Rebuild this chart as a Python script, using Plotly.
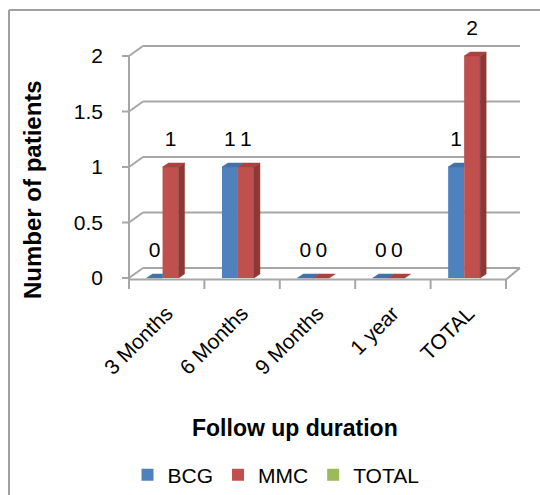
import plotly.graph_objects as go

# ---------------- data ----------------
categories = ["3 Months", "6 Months", "9 Months", "1 year", "TOTAL"]
bcg = [0, 1, 0, 0, 1]
mmc = [1, 1, 0, 0, 2]
total = [None, None, None, None, None]
y_ticks = [0, 0.5, 1, 1.5, 2]
y_tick_text = ["0", "0.5", "1", "1.5", "2"]

# ---------------- geometry (pixels) ----------------
W, H = 540, 495
ML, MR, MT, MB = 112, 10, 20, 205
PW = W - ML - MR
PH = H - MT - MB
BOTTOM_PX = MT + PH
X_PX = 75.4          # px per category
Y_PX = 111.0         # px per unit
FRONT_LEFT_PX = 129  # x = -0.5
ZERO_PX = 278        # y = 0
X0 = -0.5
XMIN = X0 - (FRONT_LEFT_PX - ML) / X_PX
XMAX = XMIN + PW / X_PX
YMIN = -(BOTTOM_PX - ZERO_PX) / Y_PX
YMAX = YMIN + PH / Y_PX
DX, DY = 14 / X_PX, 10 / Y_PX       # wall depth
BD, BE = 6 / X_PX, 4 / Y_PX         # bar depth
BAR_W = 0.212
XN = len(categories)
XEND = X0 + XN


def px(p):
    return (p - ML) / PW


def py(p):
    return (BOTTOM_PX - p) / PH


FONT = "Liberation Sans"
GRID = "#A6A6A6"

series = [
    dict(name="BCG", vals=bcg, color="#4F81BD", side="#385D8A", top="#4470A5", off=-0.267),
    dict(name="MMC", vals=mmc, color="#C0504D", side="#8C3836", top="#A8433F", off=-0.055),
    dict(name="TOTAL", vals=total, color="#9BBB59", side="#71893F", top="#88A64C", off=0.157),
]

fig = go.Figure()

# front faces (bars)
for s in series:
    fig.add_trace(go.Bar(
        x=list(range(XN)), y=s["vals"], name=s["name"],
        width=BAR_W, offset=s["off"],
        marker=dict(color=s["color"], line=dict(width=0)),
        hoverinfo="skip",
    ))

# side and top faces
for i, s in enumerate(series):
    nxt = series[i + 1]["vals"] if i + 1 < len(series) else [None] * XN
    sx, sy, tx, ty = [], [], [], []
    for j, v in enumerate(s["vals"]):
        if v is None:
            continue
        xl = j + s["off"]
        xr = xl + BAR_W
        n = nxt[j]
        if n is not None and n > v:
            tx += [xl, xl + BD, xr, xr, xl, None]
            ty += [v, v + BE, v + BE, v, v, None]
        else:
            tx += [xl, xl + BD, xr + BD, xr, xl, None]
            ty += [v, v + BE, v + BE, v, v, None]
        if v > 0 and (n is None or n < v):
            lo = 0 if n is None else n
            sx += [xr, xr + BD, xr + BD, xr, xr, None]
            sy += [lo, lo + BE, v + BE, v, lo, None]
    if sx:
        fig.add_trace(go.Scatter(x=sx, y=sy, mode="lines", fill="toself",
                                 fillcolor=s["side"], line=dict(width=0.5, color=s["side"]),
                                 showlegend=False, hoverinfo="skip"))
    if tx:
        fig.add_trace(go.Scatter(x=tx, y=ty, mode="lines", fill="toself",
                                 fillcolor=s["top"], line=dict(width=0.5, color=s["top"]),
                                 showlegend=False, hoverinfo="skip"))

# data labels
for s in series:
    lx, ly, lt = [], [], []
    for j, v in enumerate(s["vals"]):
        if v is None:
            continue
        lx.append(j + s["off"] + BAR_W / 2)
        ly.append(v + 0.24)
        lt.append(str(v))
    if lx:
        fig.add_trace(go.Scatter(x=lx, y=ly, mode="text", text=lt,
                                 textfont=dict(family=FONT, size=21, color="black"),
                                 cliponaxis=False, showlegend=False, hoverinfo="skip"))

# 3D axes decoration
shapes = []
line = dict(color=GRID, width=2)
for t in y_ticks:
    shapes.append(dict(type="line", xref="x", yref="y", x0=X0 + DX, y0=t + DY,
                       x1=XEND + DX, y1=t + DY, line=line, layer="below"))
    shapes.append(dict(type="line", xref="x", yref="y", x0=X0, y0=t,
                       x1=X0 + DX, y1=t + DY, line=line, layer="below"))
    shapes.append(dict(type="line", xref="x", yref="y", x0=X0 - 7 / X_PX, y0=t,
                       x1=X0, y1=t, line=line, layer="below"))
shapes.append(dict(type="line", xref="x", yref="y", x0=X0, y0=-10 / Y_PX,
                   x1=X0, y1=y_ticks[-1], line=line, layer="below"))
shapes.append(dict(type="line", xref="x", yref="y", x0=X0, y0=-1.5 / Y_PX,
                   x1=XEND, y1=-1.5 / Y_PX, line=line, layer="below"))
shapes.append(dict(type="line", xref="x", yref="y", x0=XEND, y0=-1.5 / Y_PX,
                   x1=XEND + DX, y1=DY, line=line, layer="below"))
for k in range(XN + 1):
    shapes.append(dict(type="line", xref="x", yref="y", x0=X0 + k, y0=-1.5 / Y_PX,
                       x1=X0 + k, y1=-11 / Y_PX, line=line, layer="below"))
# chart frame
frame = dict(color="#A0A0A0", width=2)
shapes.append(dict(type="line", xref="paper", yref="paper", x0=px(9), y0=py(10),
                   x1=px(9), y1=py(500), line=frame))
shapes.append(dict(type="line", xref="paper", yref="paper", x0=px(9), y0=py(10),
                   x1=px(545), y1=py(10), line=frame))

annotations = [
    dict(text="<b>Number of patients</b>", xref="paper", yref="paper",
         x=px(32), y=py(190), showarrow=False, textangle=-90,
         font=dict(family=FONT, size=24, color="black"), xanchor="center", yanchor="middle"),
    dict(text="<b>Follow up duration</b>", xref="paper", yref="paper",
         x=px(295), y=py(428), showarrow=False,
         font=dict(family=FONT, size=23, color="black"), xanchor="center", yanchor="middle"),
]

fig.update_layout(
    width=W, height=H,
    margin=dict(l=ML, r=MR, t=MT, b=MB, autoexpand=False),
    paper_bgcolor="white", plot_bgcolor="white",
    barmode="overlay",
    font=dict(family=FONT, size=20, color="black"),
    shapes=shapes, annotations=annotations,
    legend=dict(orientation="h", x=px(276), y=py(475), xanchor="center", yanchor="middle",
                font=dict(family=FONT, size=21, color="black"), traceorder="normal",
                itemwidth=30),
    xaxis=dict(range=[XMIN, XMAX], tickmode="array", tickvals=list(range(XN)),
               ticktext=categories, tickangle=-45, ticks="", showgrid=False,
               zeroline=False, showline=False, ticklabelstandoff=6,
               tickfont=dict(family=FONT, size=21, color="black")),
    yaxis=dict(range=[YMIN, YMAX], tickmode="array", tickvals=y_ticks,
               ticktext=y_tick_text, ticks="", showgrid=False, zeroline=False,
               showline=False, ticklabelstandoff=8,
               tickfont=dict(family=FONT, size=21, color="black")),
)

fig.write_html("out.html")
